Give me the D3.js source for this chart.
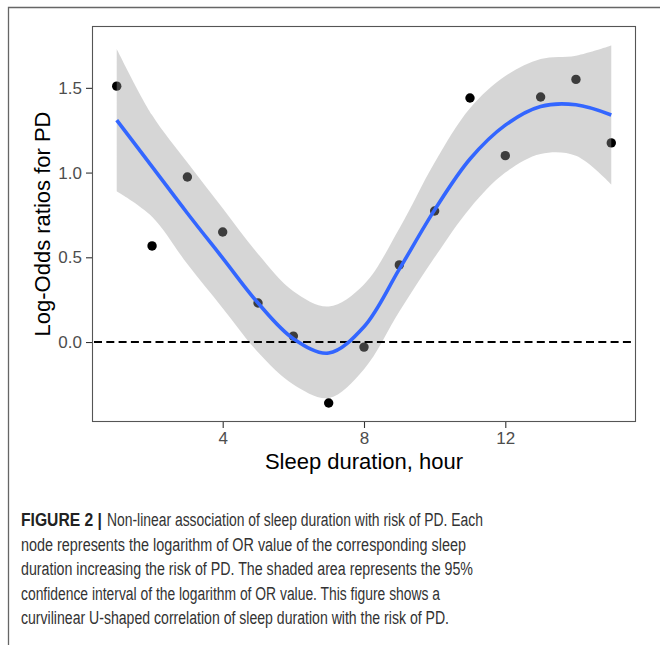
<!DOCTYPE html>
<html>
<head>
<meta charset="utf-8">
<script src="https://cdn.jsdelivr.net/npm/d3@7"></script>
<style>
  html, body { margin: 0; padding: 0; background: #fff; }
  svg { display: block; }
</style>
</head>
<body>
<svg id="chart" width="660" height="645"></svg>
<script>
// ---- data ----
const sleepHours = [1, 2, 3, 4, 5, 6, 7, 8, 9, 10, 11, 12, 13, 14, 15];
const logOdds    = [1.51, 0.567, 0.974, 0.649, 0.23, 0.035, -0.36, -0.03, 0.455, 0.773, 1.44, 1.10, 1.446, 1.55, 1.175];
const fitValues  = [1.31, 1.035, 0.76, 0.495, 0.23, 0.02, -0.065, 0.09, 0.43, 0.78, 1.08, 1.28, 1.39, 1.40, 1.34];
const ciUpper    = [1.73, 1.34, 1.06, 0.79, 0.52, 0.30, 0.21, 0.34, 0.67, 1.06, 1.38, 1.57, 1.67, 1.69, 1.75];
const ciLower    = [0.89, 0.74, 0.46, 0.20, -0.06, -0.25, -0.33, -0.16, 0.18, 0.50, 0.79, 1.00, 1.11, 1.10, 0.93];
const xTicks     = [4, 8, 12];
const yTicks     = [0.0, 0.5, 1.0, 1.5];
const refLine    = 0;
const xTitle     = "Sleep duration, hour";
const yTitle     = "Log-Odds ratios for PD";
const captionLabel = "FIGURE 2 |";
const captionLines = [
  "Non-linear association of sleep duration with risk of PD. Each",
  "node represents the logarithm of OR value of the corresponding sleep",
  "duration increasing the risk of PD. The shaded area represents the 95%",
  "confidence interval of the logarithm of OR value. This figure shows a",
  "curvilinear U-shaped correlation of sleep duration with the risk of PD."
];

// ---- layout ----
const svg = d3.select("#chart");
const panel = { left: 92, top: 26, right: 636, bottom: 422 };

const x = d3.scaleLinear().domain([0.3, 15.7]).range([panel.left, panel.right]);
const y = d3.scaleLinear().domain([-0.472, 1.865]).range([panel.bottom, panel.top]);

// outer figure frame (left + top rules)
svg.append("path")
  .attr("d", "M8.5,645 L8.5,7.5 L660,7.5")
  .attr("fill", "none").attr("stroke", "#666").attr("stroke-width", 1.3);

const plotData = sleepHours.map((h, i) => ({ h, v: logOdds[i] }));
const band = sleepHours.map((h, i) => ({ h, fit: fitValues[i], lo: ciLower[i], hi: ciUpper[i] }));

const clipId = "panelClip";
svg.append("clipPath").attr("id", clipId).append("rect")
  .attr("x", panel.left).attr("y", panel.top)
  .attr("width", panel.right - panel.left).attr("height", panel.bottom - panel.top);

const g = svg.append("g").attr("clip-path", `url(#${clipId})`);

// points (drawn first, ribbon overlays them as in ggplot)
g.selectAll("circle.pt").data(plotData).enter().append("circle")
  .attr("class", "pt")
  .attr("cx", d => x(d.h)).attr("cy", d => y(d.v))
  .attr("r", 4.7).attr("fill", "#000");

// confidence ribbon
const area = d3.area()
  .x(d => x(d.h)).y0(d => y(d.lo)).y1(d => y(d.hi))
  .curve(d3.curveCatmullRom.alpha(0.5));
g.append("path").datum(band)
  .attr("d", area)
  .attr("fill", "#999999").attr("fill-opacity", 0.4);

// reference dashed line
g.append("line")
  .attr("x1", panel.left).attr("x2", panel.right)
  .attr("y1", y(refLine)).attr("y2", y(refLine))
  .attr("stroke", "#000").attr("stroke-width", 2)
  .attr("stroke-dasharray", "8,4.3")
  .attr("stroke-dashoffset", -2);

// smooth fit line
const line = d3.line()
  .x(d => x(d.h)).y(d => y(d.fit))
  .curve(d3.curveCatmullRom.alpha(0.5));
g.append("path").datum(band)
  .attr("d", line)
  .attr("fill", "none").attr("stroke", "#3366FF").attr("stroke-width", 3.6)
  .attr("stroke-linecap", "butt");

// panel border
svg.append("rect")
  .attr("x", panel.left + 0.5).attr("y", panel.top + 0.5)
  .attr("width", panel.right - panel.left - 1).attr("height", panel.bottom - panel.top - 1)
  .attr("fill", "none").attr("stroke", "#555").attr("stroke-width", 1.1);

// axes
const xAxis = d3.axisBottom(x).tickValues(xTicks).tickSize(6).tickPadding(4).tickFormat(d3.format("d"));
const yAxis = d3.axisLeft(y).tickValues(yTicks).tickSize(6).tickPadding(4).tickFormat(d3.format(".1f"));

const gx = svg.append("g").attr("transform", `translate(0,${panel.bottom})`).call(xAxis);
const gy = svg.append("g").attr("transform", `translate(${panel.left},0)`).call(yAxis);
[gx, gy].forEach(a => {
  a.select(".domain").remove();
  a.selectAll(".tick line").attr("stroke", "#333").attr("stroke-width", 1.1);
  a.selectAll(".tick text")
    .attr("fill", "#4D4D4D")
    .style("font-family", "'Liberation Sans', Arial, sans-serif")
    .style("font-size", "17px");
});

// axis titles
svg.append("text")
  .attr("x", (panel.left + panel.right) / 2).attr("y", 469)
  .attr("text-anchor", "middle")
  .style("font-family", "'Liberation Sans', Arial, sans-serif")
  .style("font-size", "22px").attr("fill", "#000")
  .text(xTitle);

svg.append("text")
  .attr("transform", `translate(49.5,${(panel.top + panel.bottom) / 2}) rotate(-90)`)
  .attr("text-anchor", "middle")
  .style("font-family", "'Liberation Sans', Arial, sans-serif")
  .style("font-size", "22px").attr("fill", "#000")
  .text(yTitle);

// caption
const capFont = "'Liberation Sans', Arial, sans-serif";
const cap = svg.append("g");
cap.append("text")
  .attr("x", 21).attr("y", 526)
  .attr("textLength", 81).attr("lengthAdjust", "spacingAndGlyphs")
  .style("font-family", capFont).style("font-size", "18px")
  .attr("font-weight", "bold").attr("fill", "#222")
  .text(captionLabel);
const capStarts = [107, 21, 21, 21, 21];
const capEnds   = [483, 466, 473, 440, 449];
captionLines.forEach((s, i) => {
  cap.append("text")
    .attr("x", capStarts[i]).attr("y", 526 + i * 24.6)
    .attr("textLength", capEnds[i] - capStarts[i])
    .attr("lengthAdjust", "spacingAndGlyphs")
    .style("font-family", capFont).style("font-size", "18px")
    .attr("fill", "#333")
    .text(s);
});
</script>
</body>
</html>
